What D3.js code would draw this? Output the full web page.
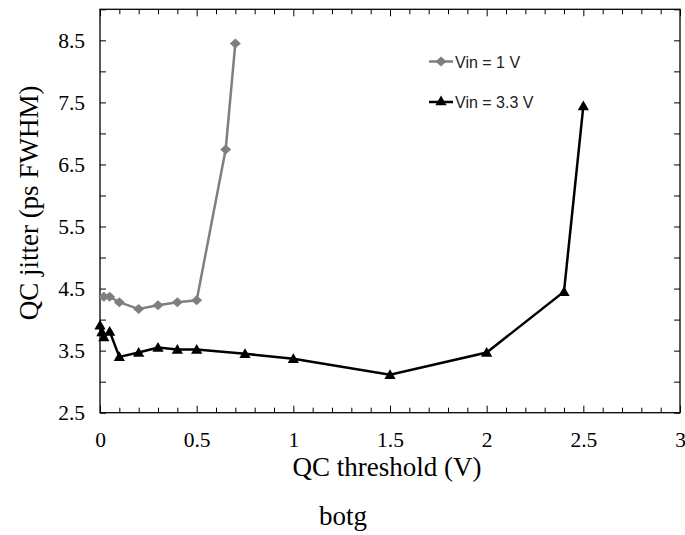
<!DOCTYPE html>
<html>
<head>
<meta charset="utf-8">
<script src="https://cdn.jsdelivr.net/npm/d3@7"></script>
<style>
  body { margin: 0; background: #fff; }
</style>
</head>
<body>
<div id="chart"></div>
<script>
// values
var vin1X = [0.02, 0.05, 0.1, 0.2, 0.3, 0.4, 0.5, 0.65, 0.7];
var vin1Y = [4.37, 4.37, 4.28, 4.17, 4.23, 4.28, 4.31, 6.74, 8.45];
var vin33X = [0, 0.01, 0.02, 0.05, 0.1, 0.2, 0.3, 0.4, 0.5, 0.75, 1, 1.5, 2, 2.4, 2.5];
var vin33Y = [3.91, 3.80, 3.72, 3.81, 3.40, 3.47, 3.55, 3.52, 3.52, 3.45, 3.37, 3.11, 3.47, 4.45, 7.44];
var seriesNames = ["Vin = 1 V", "Vin = 3.3 V"];

var xTicks = [0, 0.5, 1, 1.5, 2, 2.5, 3];
var xMinor = [0.1, 0.2, 0.3, 0.4, 0.6, 0.7, 0.8, 0.9, 1.1, 1.2, 1.3, 1.4, 1.6, 1.7, 1.8, 1.9, 2.1, 2.2, 2.3, 2.4, 2.6, 2.7, 2.8, 2.9];
var yTicks = [2.5, 3.5, 4.5, 5.5, 6.5, 7.5, 8.5];
var yMinor = [3, 4, 5, 6, 7, 8, 9];

var svgWidth = 685, svgHeight = 535;
var margin = {top: 9.3, left: 100, right: 5, bottom: 122.3};
var width = svgWidth - margin.left - margin.right;
var height = svgHeight - margin.top - margin.bottom;

var svg = d3.select("#chart").append("svg").attr("width", svgWidth).attr("height", svgHeight);
var g = svg.append("g").attr("transform", `translate(${margin.left},${margin.top})`);

var x = d3.scaleLinear().domain([0, 3]).range([0, width]);
var y = d3.scaleLinear().domain([2.5, 9]).range([height, 0]);

var serif = "'Liberation Serif', 'Times New Roman', serif";

function styleAxis(sel) {
    sel.select(".domain").remove();
    sel.selectAll("line").attr("stroke", "#000").attr("stroke-width", 1);
    sel.selectAll("text").attr("fill", "#000").attr("font-family", serif).attr("font-size", "21.5px");
}

// bottom
g.append("g").attr("transform", `translate(0,${height})`)
    .call(d3.axisBottom(x).tickValues(xTicks).tickFormat(d => d).tickSizeInner(-7).tickSizeOuter(0).tickPadding(19))
    .call(styleAxis);
g.append("g").attr("transform", `translate(0,${height})`)
    .call(d3.axisBottom(x).tickValues(xMinor).tickFormat("").tickSizeInner(-5).tickSizeOuter(0))
    .call(styleAxis);
// top
g.append("g")
    .call(d3.axisTop(x).tickValues(xTicks).tickFormat("").tickSizeInner(-7).tickSizeOuter(0))
    .call(styleAxis);
g.append("g")
    .call(d3.axisTop(x).tickValues(xMinor).tickFormat("").tickSizeInner(-5).tickSizeOuter(0))
    .call(styleAxis);
// left
g.append("g")
    .call(d3.axisLeft(y).tickValues(yTicks).tickFormat(d => d).tickSizeInner(-6).tickSizeOuter(0).tickPadding(15))
    .call(styleAxis);
g.append("g")
    .call(d3.axisLeft(y).tickValues(yMinor).tickFormat("").tickSizeInner(-6).tickSizeOuter(0))
    .call(styleAxis);
// right
g.append("g").attr("transform", `translate(${width},0)`)
    .call(d3.axisRight(y).tickValues(yTicks.concat(yMinor)).tickFormat("").tickSizeInner(-6).tickSizeOuter(0))
    .call(styleAxis);

g.append("rect").attr("width", width).attr("height", height)
    .attr("fill", "none").attr("stroke", "#000").attr("stroke-width", 1.3);

// titles
g.append("text").attr("x", x(1.5) - 3).attr("y", height + 63)
    .attr("text-anchor", "middle").attr("font-family", serif).attr("font-size", "27px")
    .text("QC threshold (V)");
g.append("text").attr("transform", `translate(-62,${y(5.75) - 8}) rotate(-90)`)
    .attr("text-anchor", "middle").attr("font-family", serif).attr("font-size", "27px")
    .text("QC jitter (ps FWHM)");
svg.append("text").attr("x", 343).attr("y", 525)
    .attr("text-anchor", "middle").attr("font-family", serif).attr("font-size", "27px")
    .text("botg");

// series
var gray = "#7f7f7f";
var d1 = vin1X.map((v, i) => ({x: v, y: vin1Y[i]}));
var d2 = vin33X.map((v, i) => ({x: v, y: vin33Y[i]}));
var line = d3.line().x(d => x(d.x)).y(d => y(d.y));
var diamond = "M0,-5L5.5,0L0,5L-5.5,0Z";
var triangle = d3.symbol().type(d3.symbolTriangle).size(55);

g.append("path").attr("d", line(d1)).attr("fill", "none").attr("stroke", gray).attr("stroke-width", 2.5);
g.selectAll(".dia").data(d1).enter().append("path")
    .attr("transform", d => `translate(${x(d.x)},${y(d.y)})`)
    .attr("d", diamond).attr("fill", gray);

g.append("path").attr("d", line(d2)).attr("fill", "none").attr("stroke", "#000").attr("stroke-width", 2.5);
g.selectAll(".tri").data(d2).enter().append("path")
    .attr("transform", d => `translate(${x(d.x)},${y(d.y) + 1})`)
    .attr("d", triangle).attr("fill", "#000");

// legend
var sans = "'Liberation Sans', Arial, sans-serif";
var legend = svg.append("g");
var legRows = [{name: seriesNames[0], color: gray, y: 61.5, mark: diamond},
               {name: seriesNames[1], color: "#000", y: 102, mark: triangle()}];
legRows.forEach(function(r) {
    legend.append("line").attr("x1", 429).attr("x2", 453).attr("y1", r.y).attr("y2", r.y)
        .attr("stroke", r.color).attr("stroke-width", 2.5);
    legend.append("path").attr("transform", `translate(441,${r.y})`).attr("d", r.mark).attr("fill", r.color);
    legend.append("text").attr("x", 455).attr("y", r.y + 6)
        .attr("font-family", sans).attr("font-size", "16px").attr("fill", "#222").text(r.name);
});
</script>
</body>
</html>
